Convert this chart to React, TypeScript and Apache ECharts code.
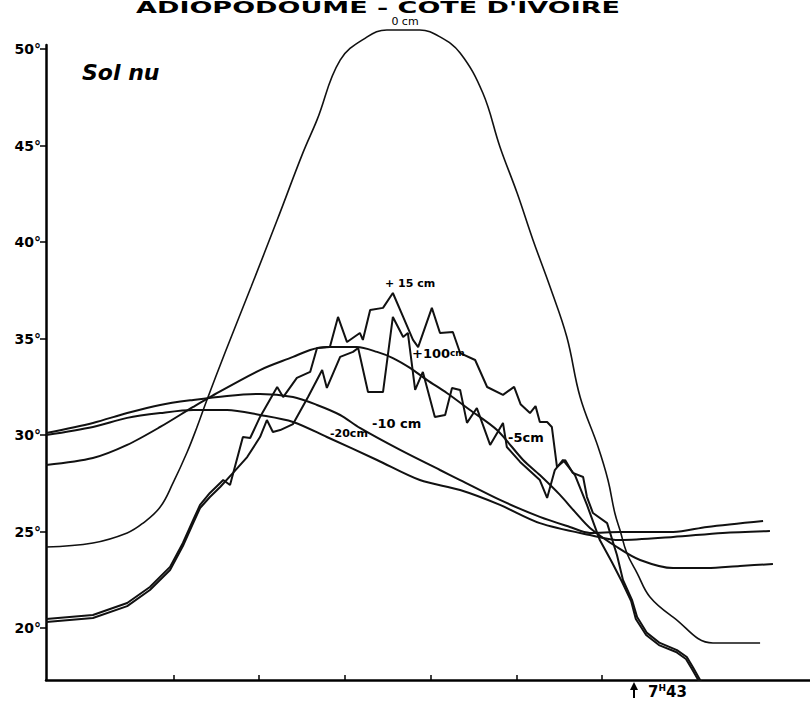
import React, { useEffect, useRef } from "react";
import * as echarts from "echarts";

// Axis ticks
const yTickValues = [20, 25, 30, 35, 40, 45, 50];
const xTickValues = [8, 10, 12, 14, 16, 18];

// 0 cm (surface)
const hours0cm = [5.03, 6.12, 6.92, 7.29, 7.69, 7.99, 8.32, 8.55, 8.78, 9.20, 9.81, 10.42, 11.02, 11.35, 11.89, 12.52, 12.98, 13.75, 14.22, 14.69, 15.22, 15.62, 16.02, 16.39, 16.79, 17.18, 17.49, 17.91, 18.14, 18.30, 18.42, 18.58, 18.82, 19.12, 19.66, 20.59, 21.69];
const temp0cm = [24.20, 24.41, 24.93, 25.44, 26.27, 27.52, 29.12, 30.42, 31.82, 34.25, 37.67, 41.14, 44.62, 46.33, 49.43, 50.63, 50.99, 50.99, 50.63, 49.80, 47.72, 44.93, 42.54, 40.11, 37.67, 35.08, 31.97, 29.38, 27.67, 25.96, 25.08, 23.89, 22.85, 21.61, 20.57, 19.23, 19.23];

// +15 cm (air)
const hoursP15 = [5.03, 6.12, 6.92, 7.45, 7.92, 8.22, 8.46, 8.62, 8.85, 9.09, 9.16, 9.32, 9.62, 9.79, 10.02, 10.42, 10.56, 10.88, 11.19, 11.35, 11.65, 11.84, 12.05, 12.35, 12.42, 12.59, 12.89, 13.12, 13.36, 13.59, 13.71, 14.03, 14.22, 14.52, 14.69, 15.04, 15.32, 15.69, 15.95, 16.10, 16.32, 16.45, 16.55, 16.72, 16.83, 16.95, 17.14, 17.32, 17.56, 17.65, 17.79, 18.12, 18.35, 18.49, 18.70, 18.82, 19.05, 19.35, 19.75, 19.98, 20.12, 20.29, 20.40];
const tempP15 = [20.47, 20.68, 21.30, 22.13, 23.17, 24.41, 25.60, 26.38, 27.00, 27.52, 27.67, 27.41, 29.90, 29.85, 30.94, 32.49, 31.97, 32.96, 33.27, 34.51, 34.56, 36.12, 34.82, 35.29, 34.93, 36.48, 36.59, 37.36, 36.12, 34.93, 34.56, 36.59, 35.29, 35.34, 34.25, 33.89, 32.49, 32.08, 32.50, 31.60, 31.14, 31.50, 30.68, 30.68, 30.42, 28.35, 28.71, 28.04, 27.83, 26.79, 25.96, 25.44, 23.79, 22.49, 21.46, 20.57, 19.75, 19.23, 18.86, 18.50, 17.98, 17.31, 16.79];

// -5 cm
const hoursM5 = [5.03, 6.12, 6.92, 7.45, 7.92, 8.22, 8.46, 8.62, 8.85, 9.09, 9.39, 9.72, 10.02, 10.18, 10.32, 10.49, 10.79, 11.14, 11.47, 11.58, 11.89, 12.19, 12.31, 12.54, 12.89, 13.12, 13.36, 13.47, 13.64, 13.82, 14.10, 14.34, 14.50, 14.69, 14.85, 15.08, 15.39, 15.69, 15.78, 16.09, 16.55, 16.72, 16.90, 17.09, 17.37, 17.65, 17.95, 18.23, 18.47, 18.68, 18.79, 19.03, 19.33, 19.73, 19.96, 20.10, 20.26, 20.38];
const tempM5 = [20.32, 20.52, 21.14, 21.97, 23.01, 24.25, 25.44, 26.22, 26.79, 27.31, 28.04, 28.86, 29.90, 30.78, 30.16, 30.26, 30.57, 31.97, 33.37, 32.44, 34.05, 34.31, 34.51, 32.23, 32.23, 36.12, 35.08, 35.29, 32.34, 33.27, 30.94, 31.04, 32.44, 32.34, 30.63, 31.40, 29.49, 30.63, 29.38, 28.61, 27.67, 26.74, 28.19, 28.71, 27.93, 26.38, 24.56, 23.42, 22.39, 21.40, 20.47, 19.64, 19.12, 18.76, 18.40, 17.88, 17.26, 16.79];

// +100 cm (air)
const hoursP100 = [5.03, 6.12, 6.92, 7.69, 8.46, 8.85, 10.02, 10.79, 11.19, 11.58, 12.28, 12.75, 13.12, 13.52, 13.92, 14.38, 14.92, 15.55, 16.16, 16.55, 17.02, 17.37, 17.72, 18.35, 18.89, 19.66, 20.45, 21.22, 21.99];
const tempP100 = [28.45, 28.81, 29.49, 30.42, 31.46, 31.97, 33.37, 34.05, 34.41, 34.56, 34.56, 34.31, 33.99, 33.48, 32.85, 32.18, 31.30, 30.26, 28.71, 27.93, 26.90, 26.02, 25.19, 24.20, 23.53, 23.11, 23.11, 23.22, 23.32];

// -10 cm
const hoursM10 = [5.03, 6.12, 6.92, 7.69, 8.46, 9.25, 10.02, 10.79, 11.35, 11.89, 12.35, 13.29, 14.22, 14.69, 15.62, 16.55, 17.25, 17.72, 18.42, 19.66, 20.45, 21.76];
const tempM10 = [30.11, 30.63, 31.14, 31.56, 31.82, 32.03, 32.13, 31.97, 31.56, 31.04, 30.37, 29.23, 28.19, 27.67, 26.64, 25.76, 25.24, 24.93, 24.98, 24.98, 25.24, 25.55];

// -20 cm
const hoursM20 = [5.03, 6.12, 6.92, 7.69, 8.46, 9.25, 10.02, 10.79, 11.58, 12.75, 13.75, 14.69, 15.62, 16.55, 17.72, 18.42, 19.66, 20.82, 21.92];
const tempM20 = [30.00, 30.42, 30.89, 31.14, 31.30, 31.30, 31.04, 30.68, 29.90, 28.71, 27.67, 27.15, 26.38, 25.44, 24.82, 24.56, 24.72, 24.93, 25.03];

const zip = (h: number[], t: number[]) => h.map((x, i) => [x, t[i]]);

const LABEL_FONT = "DejaVu Sans";

export default function App() {
  const ref = useRef<HTMLDivElement>(null);
  useEffect(() => {
    const chart = echarts.init(ref.current!, null, { renderer: "svg" });
    const mk = (name: string, h: number[], t: number[], opts: any = {}) => ({
      type: "line",
      name,
      data: zip(h, t),
      showSymbol: false,
      symbol: "none",
      smooth: opts.smooth ?? false,
      clip: opts.clip ?? true,
      lineStyle: { color: "#111", width: opts.width ?? 2 },
      emphasis: { disabled: true },
      z: 3,
    });
    chart.setOption({
      animation: false,
      backgroundColor: "#fff",
      grid: { left: 46, right: 0, top: 45, bottom: 30 },
      xAxis: {
        type: "value",
        min: 5.025,
        max: 22.855,
        axisLine: { show: true, lineStyle: { color: "#000", width: 2.5 } },
        axisTick: { show: true, inside: true, length: 5, customValues: xTickValues, lineStyle: { color: "#000", width: 1.5 } },
        axisLabel: { show: false },
        splitLine: { show: false },
      },
      yAxis: {
        type: "value",
        min: 17.31,
        max: 50.21,
        axisLine: { show: true, lineStyle: { color: "#000", width: 2.5 } },
        axisTick: { show: true, inside: false, length: 6, customValues: yTickValues, lineStyle: { color: "#000", width: 1.5 } },
        axisLabel: {
          customValues: yTickValues,
          formatter: (v: number) => `${v}°`,
          fontFamily: LABEL_FONT,
          fontWeight: "bold",
          fontSize: 14,
          color: "#000",
          margin: 5,
        },
        splitLine: { show: false },
      },
      series: [
        mk("0 cm", hours0cm, temp0cm, { smooth: 0.4, clip: false, width: 1.6 }),
        mk("+15 cm", hoursP15, tempP15, { width: 2 }),
        mk("-5 cm", hoursM5, tempM5, { width: 2 }),
        mk("+100 cm", hoursP100, tempP100, { smooth: 0.3, width: 2 }),
        mk("-10 cm", hoursM10, tempM10, { smooth: 0.3, width: 2 }),
        mk("-20 cm", hoursM20, tempM20, { smooth: 0.3, width: 2 }),
      ],
      graphic: [
        {
          type: "text", x: 378, y: 0, z: 10, scaleX: 1.8, scaleY: 1,
          style: { text: "ADIOPODOUMÉ - CÔTE D'IVOIRE", fontFamily: LABEL_FONT, fontWeight: "bold", fontSize: 15, fill: "#000", textAlign: "center", textVerticalAlign: "top" },
        },
        {
          type: "text", x: 405, y: 21, z: 10,
          style: { text: "0 cm", fontFamily: LABEL_FONT, fontSize: 11, fill: "#000", textAlign: "center", textVerticalAlign: "middle" },
        },
        {
          type: "text", x: 82, y: 72, z: 10,
          style: { text: "Sol nu", fontFamily: LABEL_FONT, fontWeight: "bold", fontStyle: "italic", fontSize: 22, fill: "#000", textAlign: "left", textVerticalAlign: "middle" },
        },
        {
          type: "text", x: 385, y: 283, z: 10,
          style: { text: "+ 15 cm", fontFamily: LABEL_FONT, fontWeight: "bold", fontSize: 11, fill: "#000", textAlign: "left", textVerticalAlign: "middle" },
        },
        {
          type: "text", x: 412, y: 353, z: 10,
          style: {
            text: "{a|+100}{b|cm}",
            textAlign: "left", textVerticalAlign: "middle",
            rich: {
              a: { fontFamily: LABEL_FONT, fontSize: 13, fontWeight: "bold", fill: "#000", color: "#000" },
              b: { fontFamily: LABEL_FONT, fontSize: 9, fontWeight: "bold", fill: "#000", color: "#000" },
            },
          },
        },
        {
          type: "text", x: 372, y: 423, z: 10,
          style: { text: "-10 cm", fontFamily: LABEL_FONT, fontWeight: "bold", fontSize: 13, fill: "#000", textAlign: "left", textVerticalAlign: "middle" },
        },
        {
          type: "text", x: 330, y: 433, z: 10,
          style: { text: "-20cm", fontFamily: LABEL_FONT, fontWeight: "bold", fontSize: 11, fill: "#000", textAlign: "left", textVerticalAlign: "middle" },
        },
        {
          type: "text", x: 508, y: 437, z: 10,
          style: { text: "-5cm", fontFamily: LABEL_FONT, fontWeight: "bold", fontSize: 13, fill: "#000", textAlign: "left", textVerticalAlign: "middle" },
        },
        {
          type: "line", z: 10,
          shape: { x1: 634, y1: 698, x2: 634, y2: 687 },
          style: { stroke: "#000", lineWidth: 2 },
        },
        {
          type: "polygon", z: 10,
          shape: { points: [[630, 690], [634, 682], [638, 690]] },
          style: { fill: "#000" },
        },
        {
          type: "text", x: 648, y: 692, z: 10,
          style: {
            text: "{a|7}{b|H}{a|43}",
            textAlign: "left", textVerticalAlign: "middle",
            rich: {
              a: { fontFamily: LABEL_FONT, fontSize: 15, fontWeight: "bold", fill: "#000", color: "#000", lineHeight: 18 },
              b: { fontFamily: LABEL_FONT, fontSize: 9, fontWeight: "bold", fill: "#000", color: "#000", verticalAlign: "top", lineHeight: 18 },
            },
          },
        },
      ],
    });
    return () => chart.dispose();
  }, []);
  return (
    <div
      ref={ref}
      style={{ position: "fixed", left: 0, top: 0, width: 810, height: 710, background: "#fff" }}
    />
  );
}
